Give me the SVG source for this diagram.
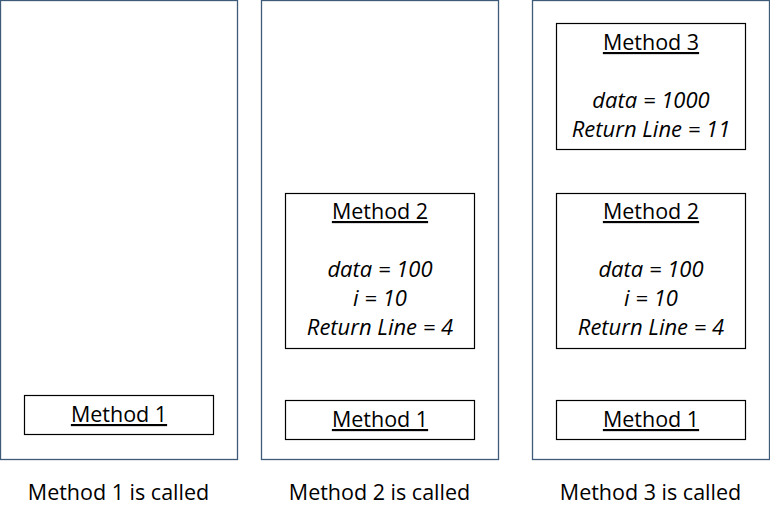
<svg xmlns="http://www.w3.org/2000/svg" width="770" height="521" viewBox="0 0 770 521">
<style>
.panel{fill:#fff;stroke:#3e5b7a;stroke-width:1.3}
.box{fill:#fff;stroke:#000;stroke-width:1.2}
text{font-family:"Open Sans","Liberation Sans",sans-serif;font-size:21.5px;fill:#000;text-anchor:middle}
.t{text-decoration:underline}
.v{font-style:italic;font-size:22px}
</style>
<rect width="770" height="521" fill="#fff"/>
<g id="panel1">
<rect class="panel" x="0.5" y="0.5" width="237" height="459"/>
<g id="p1-method1"><rect class="box" x="24.5" y="395.5" width="189" height="39"/><text class="t" x="119" y="422">Method 1</text></g>
<text x="118.5" y="500">Method 1 is called</text>
</g>
<g id="panel2">
<rect class="panel" x="261.5" y="0.5" width="237" height="459"/>
<g id="p2-method2"><rect class="box" x="285.5" y="193.5" width="189" height="155"/>
<text class="t" x="380" y="219">Method 2</text>
<text class="v" x="380" y="277">data = 100</text>
<text class="v" x="380" y="306">i = 10</text>
<text class="v" x="380" y="335">Return Line = 4</text></g>
<g id="p2-method1"><rect class="box" x="285.5" y="400.5" width="189" height="39"/><text class="t" x="380" y="427">Method 1</text></g>
<text x="379.5" y="500">Method 2 is called</text>
</g>
<g id="panel3">
<rect class="panel" x="532.5" y="0.5" width="237" height="459"/>
<g id="p3-method3"><rect class="box" x="556.5" y="23.5" width="189" height="126"/>
<text class="t" x="651" y="50">Method 3</text>
<text class="v" x="651" y="108">data = 1000</text>
<text class="v" x="651" y="137">Return Line = 11</text></g>
<g id="p3-method2"><rect class="box" x="556.5" y="193.5" width="189" height="155"/>
<text class="t" x="651" y="219">Method 2</text>
<text class="v" x="651" y="277">data = 100</text>
<text class="v" x="651" y="306">i = 10</text>
<text class="v" x="651" y="335">Return Line = 4</text></g>
<g id="p3-method1"><rect class="box" x="556.5" y="400.5" width="189" height="39"/><text class="t" x="651" y="427">Method 1</text></g>
<text x="650.5" y="500">Method 3 is called</text>
</g>
<g id="connectors"></g>
</svg>
